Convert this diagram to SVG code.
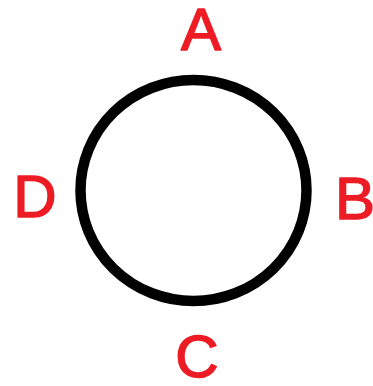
<svg xmlns="http://www.w3.org/2000/svg" width="373" height="386" viewBox="0 0 373 386">
<style>
.lbl{font-family:"Liberation Sans",Arial,sans-serif;font-size:60px;fill:#ed1c24;stroke:#ed1c24;stroke-width:1.5;stroke-linejoin:round;text-anchor:middle}
</style>
<rect width="373" height="386" fill="#fff"/>
<g id="circle">
<ellipse cx="193.5" cy="190.5" rx="113" ry="110.5" fill="none" stroke="#000" stroke-width="10.5"/>
</g>
<g id="connectors"></g>
<g id="A"><text class="lbl" x="201" y="50">A</text></g>
<g id="B"><text class="lbl" x="355" y="219">B</text></g>
<g id="C"><text class="lbl" x="197" y="377">C</text></g>
<g id="D"><text class="lbl" x="35" y="217">D</text></g>
</svg>
